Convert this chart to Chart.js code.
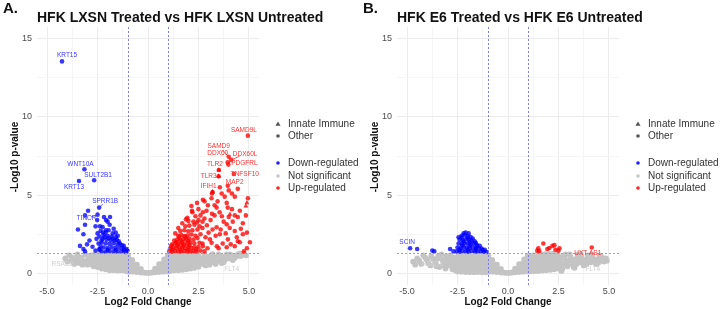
<!DOCTYPE html>
<html>
<head>
<meta charset="utf-8">
<script src="https://cdn.jsdelivr.net/npm/chart.js@4"></script>
<style>
  body { margin: 0; background: #fff; }
  .wrap { display: flex; width: 720px; height: 309px; }
  .panel { width: 360px; height: 309px; }
</style>
</head>
<body>
<div class="wrap">
  <div class="panel"><canvas id="chartA" width="360" height="309"></canvas></div>
  <div class="panel"><canvas id="chartB" width="360" height="309"></canvas></div>
</div>
<script>
// axis ticks
const xTickValues = [-5, -3.75, -2.5, -1.25, 0, 1.25, 2.5, 3.75, 5];
const xTickLabels = ['-5.0', '', '-2.5', '', '0.0', '', '2.5', '', '5.0'];
const yTickValues = [0, 2.5, 5, 7.5, 10, 12.5, 15];
const yTickLabels = ['0', '', '5', '', '10', '', '15'];
const foldCutoffs = [-1, 1];
const pCutoff = 1.3;

const legendShapes = ['Innate Immune', 'Other'];
const legendGroups = ['Down-regulated', 'Not significant', 'Up-regulated'];

// ---- panel A: HFK LXSN treated vs untreated ----
const grayA = [
  [-4.1,0.95],[-3.9,1.15],[-3.8,0.8],[-3.6,0.9],[-3.5,1.2],[-3.4,0.65],[-3.3,1.0],[-3.2,0.75],[-3.1,1.2],
  [-3.0,0.55],[-2.95,0.9],[-2.85,1.15],[-2.8,0.7],[-2.7,0.45],[-2.65,1.0],
  [-4.0,0.75],[-3.75,1.0],[-3.65,0.6],[-3.45,0.85],[-3.25,0.55],[-3.05,0.8],[-2.9,1.05],[-2.75,0.55],
  [-2.7,0.85],[-2.65,1.2],
  [-2.5,0.4],[-2.3,0.3],[-2.1,0.25],[-1.9,0.2],[-1.7,0.2],[-1.5,0.18],[-1.3,0.2],[-1.1,0.15],
  [-2.6,0.6],[-2.4,0.55],[-2.2,0.5],[-2.0,0.5],[-1.8,0.45],[-1.6,0.45],[-1.4,0.42],[-1.2,0.4],[-1.0,0.38],
  [-2.55,0.85],[-2.35,0.8],[-2.15,0.78],[-1.95,0.75],[-1.75,0.72],[-1.55,0.7],[-1.35,0.68],[-1.15,0.65],
  [-2.5,1.1],[-2.3,1.05],[-2.1,1.02],[-1.9,1.0],[-1.7,0.98],[-1.5,0.95],[-1.3,0.92],[-1.1,0.9],
  [-2.45,1.25],[-2.25,1.22],[-2.05,1.25],[-1.85,1.2],[-1.65,1.22],[-1.45,1.18],[-1.25,1.15],[-1.05,1.12],
  [-0.95,0.1],[-0.9,0.35],[-0.9,0.6],[-0.95,0.85],[-0.98,1.1],
  [-0.75,0.1],[-0.75,0.35],[-0.72,0.6],[-0.78,0.85],
  [-0.55,0.08],[-0.55,0.3],[-0.55,0.55],[-0.35,0.05],[-0.35,0.28],
  [-0.18,0.04],[-0.05,0.02],[0.08,0.03],[0.2,0.05],[0.35,0.06],[0.35,0.3],
  [0.55,0.08],[0.55,0.32],[0.55,0.58],[0.75,0.1],[0.75,0.35],[0.72,0.62],[0.8,0.88],
  [0.95,0.12],[0.92,0.38],[0.9,0.62],[0.95,0.88],[0.98,1.12],
  [1.1,0.15],[1.3,0.2],[1.5,0.2],[1.7,0.22],[1.9,0.25],[2.1,0.3],[2.3,0.35],[2.5,0.42],
  [1.0,0.4],[1.2,0.42],[1.4,0.45],[1.6,0.45],[1.8,0.5],[2.0,0.52],[2.2,0.55],[2.4,0.6],[2.6,0.65],
  [1.15,0.65],[1.35,0.68],[1.55,0.7],[1.75,0.72],[1.95,0.75],[2.15,0.78],[2.35,0.8],[2.55,0.85],
  [1.1,0.9],[1.3,0.92],[1.5,0.95],[1.7,0.98],[1.9,1.0],[2.1,1.02],[2.3,1.05],[2.5,1.08],
  [1.05,1.12],[1.25,1.15],[1.45,1.18],[1.65,1.2],[1.85,1.22],[2.05,1.22],[2.25,1.25],[2.45,1.22],
  [2.7,0.6],[2.75,0.9],[2.8,1.2],[2.9,0.75],[3.0,1.05],[3.05,0.55],[3.15,0.9],[3.2,1.22],[3.3,0.7],
  [3.4,1.0],[3.5,1.2],[3.55,0.8],[3.7,1.05],[3.8,0.85],[3.9,1.2],[4.0,0.95],[4.15,1.15],[4.3,1.0],
  [4.45,1.2],[4.6,1.1],[4.75,1.25],
  [2.65,0.95],[2.85,0.5],[2.95,0.95],[3.1,0.7],[3.25,1.05],[3.35,0.6],[3.45,0.85],[3.6,1.05],
  [3.75,0.7],[3.85,1.05],[4.05,1.2],[4.2,0.85],[4.4,1.1],[4.55,1.25],[4.85,1.15]
];
const downA = [
  [-2.97,4.0],[-3.12,3.7],[-2.52,3.4],[-2.18,3.6],[-2.08,3.4],[-1.88,3.6],[-3.47,2.8],[-3.12,3.1],
  [-3.2,2.5],[-2.38,3.0],[-2.23,2.6],[-2.08,2.75],[-3.37,1.75],[-3.2,1.55],[-3.12,1.4],[-3.02,1.85],
  [-2.3,1.4],[-2.1,1.38],[-1.9,1.42],[-1.7,1.4],[-1.5,1.38],[-1.3,1.4],[-1.1,1.36],[-1.02,1.45],
  [-2.35,1.7],[-2.2,1.65],[-2.0,1.62],[-1.8,1.66],[-1.6,1.64],[-1.4,1.62],[-1.2,1.58],[-1.05,1.55],
  [-2.3,1.95],[-2.1,1.9],[-1.9,1.88],[-1.7,1.92],[-1.5,1.85],[-1.3,1.8],
  [-2.25,2.2],[-2.05,2.15],[-1.85,2.12],[-1.65,2.1],[-1.45,2.05],
  [-2.2,2.45],[-2.0,2.4],[-1.8,2.35],[-1.6,2.3],
  [-2.15,2.3],[-1.95,2.25],[-1.75,2.2],[-1.55,2.15],[-2.4,2.35],[-2.3,2.1],[-1.4,1.9],[-1.2,1.75],
  [-2.0,1.5],[-1.6,1.5],[-1.2,1.48],[-2.4,1.5],
  [-2.35,2.7],[-2.1,2.6],[-1.95,2.75],[-1.75,2.55],[-2.25,2.95],[-1.9,3.1],[-1.7,2.85],[-2.0,3.3],
  [-1.6,2.6],[-1.5,2.4],[-2.6,1.45],[-2.75,1.7],[-2.9,2.1],[-2.55,2.2],[-2.45,1.9],[-2.5,2.55],
  [-2.6,3.0],[-2.4,1.55]
];
const upA = [
  [1.05,1.4],[1.2,1.38],[1.35,1.42],[1.5,1.4],[1.65,1.38],[1.8,1.42],[1.95,1.4],[2.1,1.38],[2.25,1.42],
  [2.4,1.4],[2.6,1.45],[2.8,1.4],
  [1.1,1.6],[1.25,1.65],[1.4,1.62],[1.55,1.66],[1.7,1.64],[1.85,1.6],[2.0,1.68],[2.15,1.62],[2.3,1.66],[2.5,1.7],
  [1.2,1.85],[1.35,1.9],[1.5,1.88],[1.65,1.92],[1.8,1.86],[1.95,1.9],[2.1,1.95],[2.3,1.9],[2.55,1.95],
  [1.3,2.1],[1.45,2.15],[1.6,2.12],[1.75,2.18],[1.9,2.15],[2.05,2.2],[2.25,2.15],[2.45,2.25],
  [1.5,2.4],[1.65,2.45],[1.8,2.38],[1.95,2.42],[2.15,2.48],[2.35,2.4],
  [1.6,2.7],[1.8,2.75],[2.0,2.68],[2.2,2.75],[2.45,2.8],
  [1.15,1.75],[1.45,1.78],[1.75,1.76],[2.05,1.8],[1.4,2.0],[1.7,2.02],[2.0,2.05],[1.55,2.28],[1.85,2.3],
  [1.2,1.5],[1.6,1.5],[2.0,1.52],[2.4,1.55],
  [1.85,3.0],[2.05,3.05],[2.3,3.1],[2.55,3.0],[2.0,3.35],[2.25,3.3],[2.5,3.4],[2.7,3.3],
  [3.56,5.5],[3.17,5.1],[4.3,4.9],[4.16,5.1],[4.95,4.8],[2.72,4.7],[2.43,4.5],[2.97,4.35],
  [3.4,4.2],[3.9,4.5],[4.16,4.1],[4.55,4.0],[4.45,3.6],[3.66,3.65],[3.17,3.8],[2.72,3.9],[2.18,4.0],
  [1.88,3.45],[2.43,3.25],[2.92,3.07],[3.4,2.94],[3.9,3.13],[4.3,2.7],[4.7,2.5],[4.9,2.6],[4.45,2.05],
  [4.55,1.98],[5.05,1.98],[3.96,2.17],[3.56,2.5],[3.07,2.17],[2.72,1.73],[3.41,1.73],[3.9,1.66],
  [4.3,1.73],[4.9,1.6],[4.75,1.4],
  [2.6,3.7],[2.8,3.5],[2.35,3.65],[2.9,4.0],[3.1,3.4],[3.3,3.7],[3.0,2.6],[3.2,2.8],[3.35,2.4],
  [3.6,2.8],[3.75,3.3],[3.85,2.55],[4.05,2.9],[4.2,3.3],[4.0,3.6],[3.55,3.9],[2.7,2.9],[2.85,2.3],
  [2.6,2.5],[3.15,1.95],[3.5,1.6],[3.7,1.9],[4.1,1.85],[4.4,2.3],[4.6,2.85],[4.3,3.7],[2.95,1.6],
  [2.7,1.9],[3.45,4.6],[3.8,4.9],[3.3,4.35],[2.5,4.1],[2.2,3.9],[1.95,3.55],[1.7,3.2],[1.5,2.9],
  [1.35,2.55],[2.15,4.3],[2.8,4.6],[3.15,4.8],[3.65,5.1],[4.0,5.3],[3.95,4.2],[4.7,3.2],[4.85,3.7],
  [4.45,5.4]
];
const upInnateA = [[3.51,6.6],[3.5,6.2],[3.2,5.2],[4.9,4.5],[4.06,3.77],[4.85,4.3]];
const geneNamesA = ['KRT15','WNT10A','SULT2B1','KRT13','SPRR1B','TINCR','RSAD2','FLT4',
  'SAMD9L','SAMD9','DDX60','DDX60L','PDGFRL','TLR2','TNFSF10','TLR3','MAP2','IFIH1'];
const genePointsA = [[-4.26,13.55],[-3.15,6.65],[-2.67,5.95],[-3.42,5.9],[-2.42,4.2],[-2.5,3.75],
  [-3.5,0.85],[3.65,0.65],[4.95,8.8],[4.0,7.45],[3.95,7.1],[4.12,7.25],[3.98,6.95],[3.51,6.6],
  [4.25,6.35],[3.5,6.2],[3.95,5.6],[3.2,5.2]];
const geneGroupA = ['down','down','down','down','down','down','ns','ns',
  'up','up','up','up','up','up','up','up','up','up'];

// ---- panel B: HFK E6 treated vs untreated ----
const grayB = [
  [-4.7,0.75],[-4.5,0.95],[-4.3,0.6],[-4.2,1.15],[-4.0,0.85],[-3.85,0.5],[-3.8,1.1],[-3.6,0.7],[-3.5,0.95],
  [-3.4,0.4],[-3.3,1.2],[-3.2,0.65],[-3.1,0.3],[-3.0,0.9],[-2.9,0.5],[-2.85,1.15],[-2.75,0.25],[-2.7,0.75],[-2.65,1.0],
  [-4.6,0.55],[-4.4,0.8],[-4.1,1.0],[-3.95,0.65],[-3.7,0.9],[-3.55,0.45],[-3.45,1.1],[-3.25,0.85],
  [-3.15,0.5],[-3.05,1.1],[-2.95,0.7],[-2.8,0.95],[-2.65,0.55],[-2.6,0.2],
  [-2.5,0.12],[-2.3,0.1],[-2.1,0.08],[-1.9,0.08],[-1.7,0.07],[-1.5,0.08],[-1.3,0.06],[-1.1,0.06],
  [-2.6,0.4],[-2.4,0.35],[-2.2,0.35],[-2.0,0.32],[-1.8,0.3],[-1.6,0.3],[-1.4,0.28],[-1.2,0.3],[-1.0,0.28],
  [-2.55,0.65],[-2.35,0.62],[-2.15,0.6],[-1.95,0.6],[-1.75,0.58],[-1.55,0.56],[-1.35,0.55],[-1.15,0.55],
  [-2.5,0.9],[-2.3,0.88],[-2.1,0.85],[-1.9,0.85],[-1.7,0.82],[-1.5,0.8],[-1.3,0.8],[-1.1,0.78],
  [-2.45,1.15],[-2.25,1.12],[-2.05,1.1],[-1.85,1.1],[-1.65,1.08],[-1.45,1.05],[-1.25,1.05],[-1.05,1.02],
  [-2.4,1.25],[-2.0,1.25],[-1.6,1.24],[-1.2,1.22],
  [-0.95,0.1],[-0.9,0.35],[-0.9,0.6],[-0.95,0.85],[-0.98,1.1],
  [-0.75,0.1],[-0.75,0.35],[-0.72,0.6],[-0.78,0.85],
  [-0.55,0.08],[-0.55,0.3],[-0.55,0.55],[-0.35,0.05],[-0.35,0.28],
  [-0.18,0.04],[-0.05,0.02],[0.08,0.03],[0.2,0.05],[0.35,0.06],[0.35,0.3],
  [0.55,0.08],[0.55,0.32],[0.55,0.58],[0.75,0.1],[0.75,0.35],[0.72,0.62],[0.8,0.88],
  [0.95,0.12],[0.92,0.38],[0.9,0.62],[0.95,0.88],[0.98,1.12],
  [1.1,0.12],[1.3,0.14],[1.5,0.15],[1.7,0.18],[1.9,0.2],[2.1,0.22],[2.3,0.25],[2.5,0.3],
  [1.0,0.38],[1.2,0.4],[1.4,0.42],[1.6,0.42],[1.8,0.45],[2.0,0.48],[2.2,0.5],[2.4,0.52],[2.6,0.55],
  [1.15,0.65],[1.35,0.68],[1.55,0.7],[1.75,0.72],[1.95,0.75],[2.15,0.78],[2.35,0.8],[2.55,0.82],
  [1.1,0.9],[1.3,0.92],[1.5,0.95],[1.7,0.98],[1.9,1.0],[2.1,1.02],[2.3,1.05],[2.5,1.05],
  [1.05,1.12],[1.25,1.15],[1.45,1.2],[1.65,1.2],[1.85,1.22],[2.05,1.22],[2.25,1.25],[2.45,1.22],
  [2.7,0.3],[2.75,0.6],[2.8,0.95],[2.85,1.2],[2.95,0.45],[3.0,0.8],[3.1,1.05],[3.2,0.6],[3.3,0.35],
  [3.35,0.9],[3.45,1.2],[3.55,0.7],[3.65,1.0],[3.75,0.5],[3.85,0.85],[3.95,1.15],[4.1,0.7],[4.2,1.0],
  [4.35,0.62],[4.45,0.9],[4.6,1.1],[4.75,0.75],[4.85,0.95],
  [2.65,0.15],[2.7,1.05],[2.9,0.65],[3.05,1.2],[3.15,0.85],[3.25,0.4],[3.4,0.6],[3.5,0.95],[3.6,1.2],
  [3.7,0.75],[3.9,0.6],[4.0,0.95],[4.15,1.2],[4.3,0.85],[4.5,0.7],[4.55,1.15],[4.7,0.95],[4.9,0.8]
];
const downB = [
  [-2.55,1.4],[-2.4,1.38],[-2.25,1.42],[-2.1,1.4],[-1.95,1.38],[-1.8,1.42],[-1.65,1.4],[-1.5,1.38],
  [-1.35,1.4],[-1.2,1.38],[-1.05,1.36],
  [-2.5,1.65],[-2.35,1.62],[-2.2,1.66],[-2.05,1.64],[-1.9,1.6],[-1.75,1.66],[-1.6,1.62],[-1.45,1.6],
  [-1.3,1.58],[-1.15,1.5],
  [-2.45,1.9],[-2.3,1.88],[-2.15,1.92],[-2.0,1.9],[-1.85,1.86],[-1.7,1.9],[-1.55,1.82],[-1.4,1.75],
  [-2.4,2.15],[-2.25,2.12],[-2.1,2.18],[-1.95,2.15],[-1.8,2.1],[-1.65,2.05],
  [-2.3,2.4],[-2.15,2.45],[-2.0,2.38],[-1.85,2.32],
  [-2.1,2.6],[-2.2,2.55],[-1.95,2.55],[-2.45,2.3],
  [-2.4,1.52],[-2.0,1.52],[-1.6,1.5],[-1.25,1.48],[-2.25,1.78],[-1.9,1.76],[-1.55,1.72],[-2.2,2.02],
  [-1.9,2.0],[-1.6,1.95],[-2.3,2.28],[-2.0,2.25],[-1.75,2.22],
  [-2.87,1.55],[-2.7,1.4],[-3.65,1.4],[-3.75,1.45],[-4.5,1.55]
];
const upB = [
  [1.45,1.45],[1.5,1.6],[1.55,1.42],[1.75,1.9],[1.95,1.55],[2.05,1.62],[2.2,1.75],[2.3,1.8],
  [2.35,1.5],[2.5,1.45],[2.55,1.6]
];
const upInnateB = [];
const geneNamesB = ['SCIN','RSAD2','FLT4','UXT-AS1'];
const genePointsB = [[-4.85,1.6],[-4.0,0.85],[4.4,0.6],[4.15,1.65]];
const geneGroupB = ['down','ns','ns','up'];

// label placement (pixel offsets from the point) and leader flags
const labelOffsetA = [[5,-6],[-4,-5],[4,-5],[-5,6],[6,-6],[-11,4],[-15,4],[10,6],
  [-4,-5],[-10,-11],[-10,-9],[14,-6],[16,-1],[-4,-6],[11,0],[-10,0],[7,-4],[-4,-6]];
const leaderA = [0,0,0,0,1,1,0,0,0,1,0,1,0,0,0,0,1,0];
const labelOffsetB = [[-3,-6],[5,4],[-4,5],[-4,6]];
const leaderB = [0,0,0,0];

const FONT = '"Liberation Sans", Arial, Helvetica, sans-serif';
const groupColor = { down: '#3a3aff', up: '#ff3030', ns: '#cfcfcf' };

const decor = {
  id: 'decor',
  afterDatasetsDraw(chart, args, o) {
    const { ctx, chartArea: a, scales: { x, y } } = chart;
    ctx.save();
    // dotted cutoff lines, drawn dot by dot so the colour stays crisp
    ctx.fillStyle = '#7c7cf2';
    foldCutoffs.forEach(v => {
      const px = Math.round(x.getPixelForValue(v));
      for (let yy = Math.round(a.top); yy < a.bottom; yy += 4) ctx.fillRect(px, yy, 1, 2);
    });
    ctx.fillStyle = '#f08080';
    const py = Math.round(y.getPixelForValue(pCutoff));
    for (let xx = Math.round(a.left); xx < a.right; xx += 4) ctx.fillRect(xx, py, 2, 1);

    // gene labels
    ctx.font = '6.5px ' + FONT;
    ctx.textAlign = 'center';
    ctx.textBaseline = 'middle';
    o.names.forEach((name, i) => {
      const px = x.getPixelForValue(o.points[i][0]);
      const py2 = y.getPixelForValue(o.points[i][1]);
      const [dx, dy] = o.offsets[i];
      const c = groupColor[o.groups[i]];
      if (o.leaders[i]) {
        ctx.strokeStyle = c;
        ctx.lineWidth = 0.8;
        ctx.beginPath(); ctx.moveTo(px, py2); ctx.lineTo(px + dx * 0.6, py2 + dy * 0.6); ctx.stroke();
      }
      ctx.fillStyle = c;
      ctx.fillText(name, px + dx, py2 + dy);
    });
    ctx.restore();
  },
  afterDraw(chart, args, o) {
    const { ctx, chartArea: a } = chart;
    ctx.save();
    ctx.fillStyle = '#111';
    ctx.textBaseline = 'alphabetic';
    ctx.textAlign = 'left';
    ctx.font = 'bold 15px ' + FONT;
    ctx.fillText(o.letter, 3, 13);
    ctx.font = 'bold 14px ' + FONT;
    ctx.fillText(o.title, a.left, 22);

    // axis titles
    ctx.font = 'bold 10px ' + FONT;
    ctx.textAlign = 'center';
    ctx.textBaseline = 'middle';
    ctx.fillText('Log2 Fold Change', (a.left + a.right) / 2, 302);
    ctx.save();
    ctx.translate(15, 157);
    ctx.rotate(-Math.PI / 2);
    ctx.fillText('-Log10 p-value', 0, 0);
    ctx.restore();

    // legend
    const sx = 278, tx = 288;
    ctx.font = '10px ' + FONT;
    ctx.textAlign = 'left';
    const shapeY = [124, 136];
    ctx.fillStyle = '#555';
    ctx.beginPath();
    ctx.moveTo(sx, shapeY[0] - 2.6); ctx.lineTo(sx + 2.6, shapeY[0] + 1.8); ctx.lineTo(sx - 2.6, shapeY[0] + 1.8);
    ctx.closePath(); ctx.fill();
    ctx.beginPath(); ctx.arc(sx, shapeY[1], 1.8, 0, Math.PI * 2); ctx.fill();
    ctx.fillStyle = '#333';
    legendShapes.forEach((t, i) => ctx.fillText(t, tx, shapeY[i]));
    const groupY = [163, 176, 188];
    const gc = ['#2020ff', '#c8c8c8', '#ff2020'];
    legendGroups.forEach((t, i) => {
      ctx.fillStyle = gc[i];
      ctx.beginPath(); ctx.arc(sx, groupY[i], 1.8, 0, Math.PI * 2); ctx.fill();
      ctx.fillStyle = '#333';
      ctx.fillText(t, tx, groupY[i]);
    });
    ctx.restore();
  }
};

function toPts(arr) { return arr.map(p => ({ x: p[0], y: p[1] })); }

function makeChart(id, panel) {
  const down = panel.down.concat(panel.genePts.filter((p, i) => panel.groups[i] === 'down'));
  const up = panel.up.concat(panel.genePts.filter((p, i) => panel.groups[i] === 'up'));
  const gray = panel.gray.concat(panel.genePts.filter((p, i) => panel.groups[i] === 'ns'));
  return new Chart(document.getElementById(id), {
    type: 'scatter',
    data: {
      datasets: [
        { data: toPts(panel.upInnate), pointStyle: 'triangle', pointRadius: 2.9, backgroundColor: 'rgba(255,0,0,0.8)', borderWidth: 0, order: 0 },
        { data: toPts(up), pointRadius: 2.3, backgroundColor: 'rgba(255,0,0,0.78)', borderWidth: 0, order: 1 },
        { data: toPts(down), pointRadius: 2.3, backgroundColor: 'rgba(0,0,255,0.78)', borderWidth: 0, order: 2 },
        { data: toPts(gray), pointRadius: 2.9, backgroundColor: '#c4c4c4', borderWidth: 0, order: 3 }
      ]
    },
    options: {
      responsive: false,
      animation: false,
      devicePixelRatio: 1,
      layout: { padding: { top: 27, right: 101, left: 0, bottom: 0 } },
      plugins: {
        legend: { display: false },
        tooltip: { enabled: false },
        decor: { letter: panel.letter, title: panel.title, names: panel.names, points: panel.genePts,
                 groups: panel.groups, offsets: panel.offsets, leaders: panel.leaders }
      },
      scales: {
        x: {
          type: 'linear', min: -5.5, max: 5.5,
          afterBuildTicks: s => { s.ticks = xTickValues.map(v => ({ value: v })); },
          afterFit: s => { s.height = 24; },
          ticks: {
            callback: (v) => xTickLabels[xTickValues.indexOf(v)] ?? '',
            font: { size: 9, family: FONT }, color: '#4d4d4d', padding: 1, maxRotation: 0, autoSkip: false
          },
          grid: { color: c => (c.index % 2 === 0 ? '#ececec' : '#f5f5f5'), drawTicks: false },
          border: { display: false }
        },
        y: {
          type: 'linear', min: -0.75, max: 15.75,
          afterBuildTicks: s => { s.ticks = yTickValues.map(v => ({ value: v })); },
          afterFit: s => { s.width = 37; },
          ticks: {
            callback: (v) => yTickLabels[yTickValues.indexOf(v)] ?? '',
            font: { size: 9, family: FONT }, color: '#4d4d4d', padding: 5, autoSkip: false
          },
          grid: { color: c => (c.index % 2 === 0 ? '#ececec' : '#f5f5f5'), drawTicks: false },
          border: { display: false }
        }
      }
    },
    plugins: [decor]
  });
}

makeChart('chartA', {
  letter: 'A.', title: 'HFK LXSN Treated vs HFK LXSN Untreated',
  gray: grayA, down: downA, up: upA, upInnate: upInnateA,
  names: geneNamesA, genePts: genePointsA, groups: geneGroupA, offsets: labelOffsetA, leaders: leaderA
});
makeChart('chartB', {
  letter: 'B.', title: 'HFK E6 Treated vs HFK E6 Untreated',
  gray: grayB, down: downB, up: upB, upInnate: upInnateB,
  names: geneNamesB, genePts: genePointsB, groups: geneGroupB, offsets: labelOffsetB, leaders: leaderB
});
</script>
</body>
</html>
